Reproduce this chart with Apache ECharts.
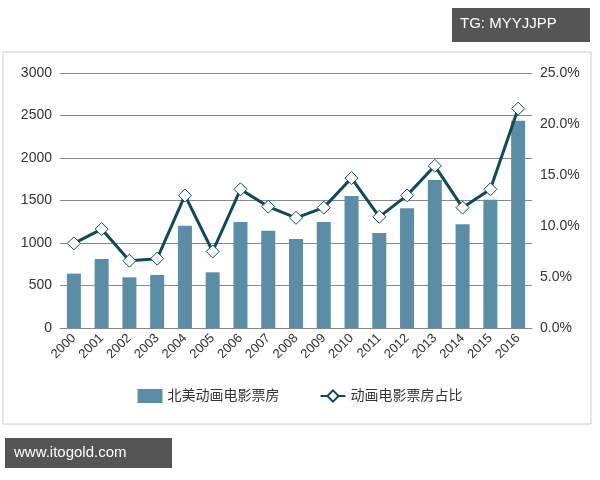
<!DOCTYPE html><html><head><meta charset="utf-8"><script src="https://cdn.jsdelivr.net/npm/echarts@6/dist/echarts.min.js"></script></head><body style="margin:0;background:#fff"><div id="c" style="width:600px;height:480px"></div><script>
const years=['2000','2001','2002','2003','2004','2005','2006','2007','2008','2009','2010','2011','2012','2013','2014','2015','2016'];
const boxOffice=[640,812,596,624,1204,655,1247,1145,1047,1247,1553,1118,1408,1741,1220,1510,2439];
const share=[8.3,9.7,6.6,6.8,13.0,7.5,13.6,11.9,10.8,11.8,14.7,10.9,13.0,15.9,11.8,13.6,21.5];
const ch=echarts.init(document.getElementById('c'));
const f="'Liberation Sans','Noto Sans CJK SC',sans-serif";
ch.setOption({animation:false,
graphic:[
{type:'rect',shape:{x:3,y:52,width:588,height:372},style:{fill:'none',stroke:'#ccc',lineWidth:1}},
{type:'rect',shape:{x:452,y:8,width:138,height:34},style:{fill:'#555'}},
{type:'text',left:460,top:16,style:{text:'TG: MYYJJPP',fill:'#fff',font:'15px '+f}},
{type:'rect',shape:{x:5,y:438,width:167,height:30},style:{fill:'#555'}},
{type:'text',left:14,top:445,style:{text:'www.itogold.com',fill:'#fff',font:'15px '+f}}
],
grid:{left:60,right:68,top:73,bottom:152},
legend:{bottom:72,left:'center',itemGap:40,textStyle:{fontFamily:f,fontSize:14,color:'#333'},data:[{name:'北美动画电影票房',icon:'rect'},{name:'动画电影票房占比'}]},
xAxis:{type:'category',data:years,axisTick:{show:false},axisLine:{lineStyle:{color:'#888'}},axisLabel:{rotate:45,color:'#333',fontSize:13,fontFamily:f}},
yAxis:[{type:'value',min:0,max:3000,interval:500,axisLabel:{color:'#333',fontSize:14,fontFamily:f,formatter:v=>String(v)},splitLine:{lineStyle:{color:'#888'}}},
{type:'value',min:0,max:25,interval:5,axisLabel:{color:'#333',fontSize:14,fontFamily:f,formatter:v=>v.toFixed(1)+'%'},splitLine:{show:false}}],
series:[{name:'北美动画电影票房',type:'bar',data:boxOffice,barWidth:14,itemStyle:{color:'#5b8ea6'}},
{name:'动画电影票房占比',type:'line',yAxisIndex:1,data:share,symbol:'diamond',symbolSize:13,lineStyle:{color:'#0e4a5a',width:3},itemStyle:{color:'#fff',borderColor:'#0e4a5a',borderWidth:1}}]
});
</script></body></html>
